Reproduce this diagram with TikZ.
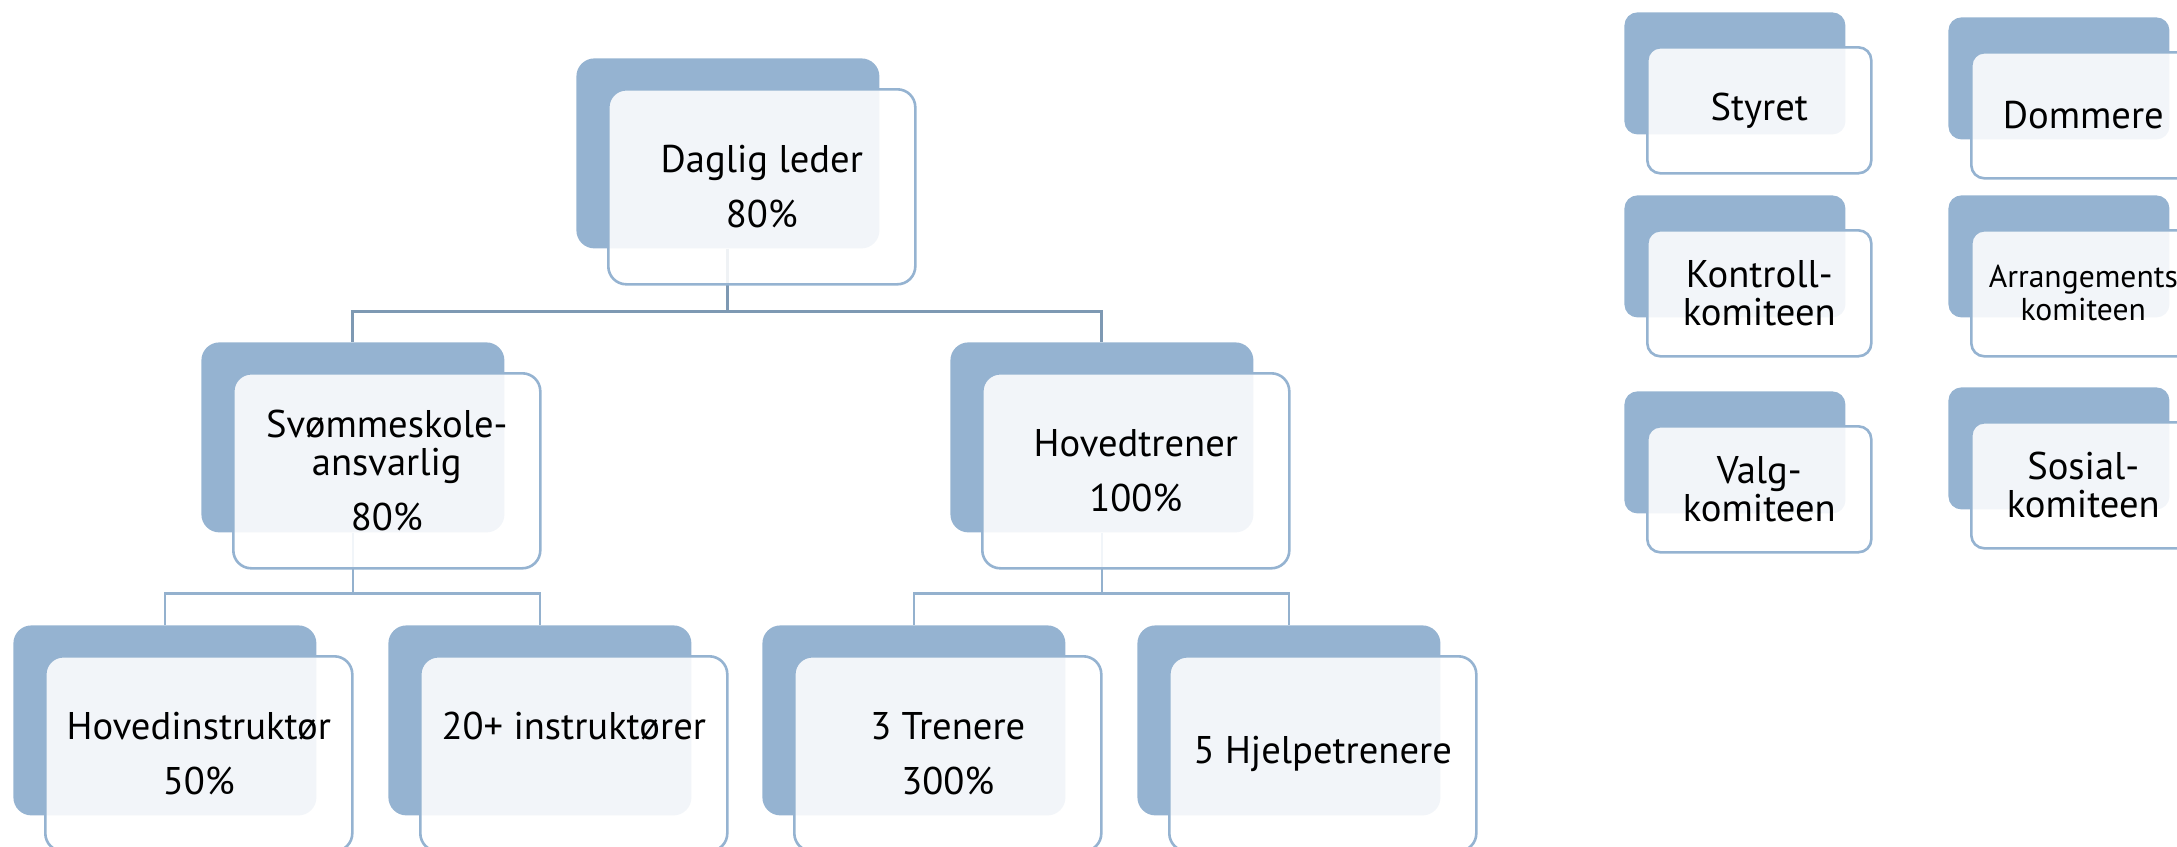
\documentclass[tikz,border=0pt]{standalone}
\usepackage{fontspec}
\setmainfont{PT Sans}
\usetikzlibrary{positioning}

\definecolor{backblue}{HTML}{95B3D1}
\definecolor{topline}{HTML}{7E99B3}
\definecolor{lowline}{HTML}{94B1CE}

\begin{document}
\begin{tikzpicture}[x=0.5pt,y=-0.5pt,
    back/.style={fill=backblue, rounded corners=9pt, inner sep=0pt, anchor=north west,
        minimum width=151.5pt, minimum height=95pt},
    front/.style={draw=backblue, line width=1.3pt, fill=white, fill opacity=0.88, text opacity=1,
        rounded corners=9pt, inner sep=1pt, align=center, font=\fontsize{19.3}{19}\selectfont,
        minimum width=153.5pt, minimum height=97.5pt, below right=15pt and 15.5pt of #1.north west},
    sback/.style={back, rounded corners=6.5pt, minimum width=110.5pt, minimum height=61pt},
    sfront/.style={front=#1, rounded corners=6.5pt, minimum width=112pt, minimum height=63pt,
        below right=17pt and 11pt of #1.north west},
    link/.style={draw=topline, line width=1.5pt},
    sublink/.style={draw=lowline, line width=1.4pt}]
   \useasboundingbox (0,0) rectangle (2177,846);
   \clip (0,0) rectangle (2177,846);

   \node[back] (dlb) at (576,58) {};
   \node[back] (svb) at (201,342) {};
   \node[back] (htb) at (950,342) {};
   \node[back] (hib) at (13,625) {};
   \node[back] (inb) at (388,625) {};
   \node[back] (trb) at (762,625) {};
   \node[back] (hjb) at (1137,625) {};

   \node[sback] (stb) at (1624,12) {};
   \node[sback] (kob) at (1624,195) {};
   \node[sback] (vab) at (1624,391) {};
   \node[sback] (dob) at (1948,17) {};
   \node[sback] (arb) at (1948,195) {};
   \node[sback] (sob) at (1948,387) {};

   \path[link] (dlb.south) -- ++(0,63) -| (svb.north);
   \path[link] (dlb.south) -- ++(0,63) -| (htb.north);
   \path[sublink] (svb.south) -- ++(0,61) -| (hib.north);
   \path[sublink] (svb.south) -- ++(0,61) -| (inb.north);
   \path[sublink] (htb.south) -- ++(0,61) -| (trb.north);
   \path[sublink] (htb.south) -- ++(0,61) -| (hjb.north);

   \node[front=dlb] (dl) {Daglig leder\\[8.5pt]80\%};
   \node[front=svb] (sv) {Svømmeskole-\\ansvarlig\\[8.5pt]80\%};
   \node[front=htb] (ht) {Hovedtrener\\[8.5pt]100\%};
   \node[front=hib] (hi) {Hovedinstruktør\\[8.5pt]50\%};
   \node[front=inb] (in) {20+ instruktører\\[8.5pt]\phantom{50\%}};
   \node[front=trb] (tr) {3 Trenere\\[8.5pt]300\%};
   \node[front=hjb] (hj) {5 Hjelpetrenere};

   \node[sfront=stb] (st) {Styret};
   \node[sfront=kob] (ko) {Kontroll-\\komiteen};
   \node[sfront=vab] (va) {Valg-\\komiteen};
   \node[sfront=dob] (do) {Dommere};
   \node[sfront=arb, font=\fontsize{15.8}{16.5}\selectfont] (ar) {Arrangements\\komiteen};
   \node[sfront=sob] (so) {Sosial-\\komiteen};
\end{tikzpicture}
\end{document}
